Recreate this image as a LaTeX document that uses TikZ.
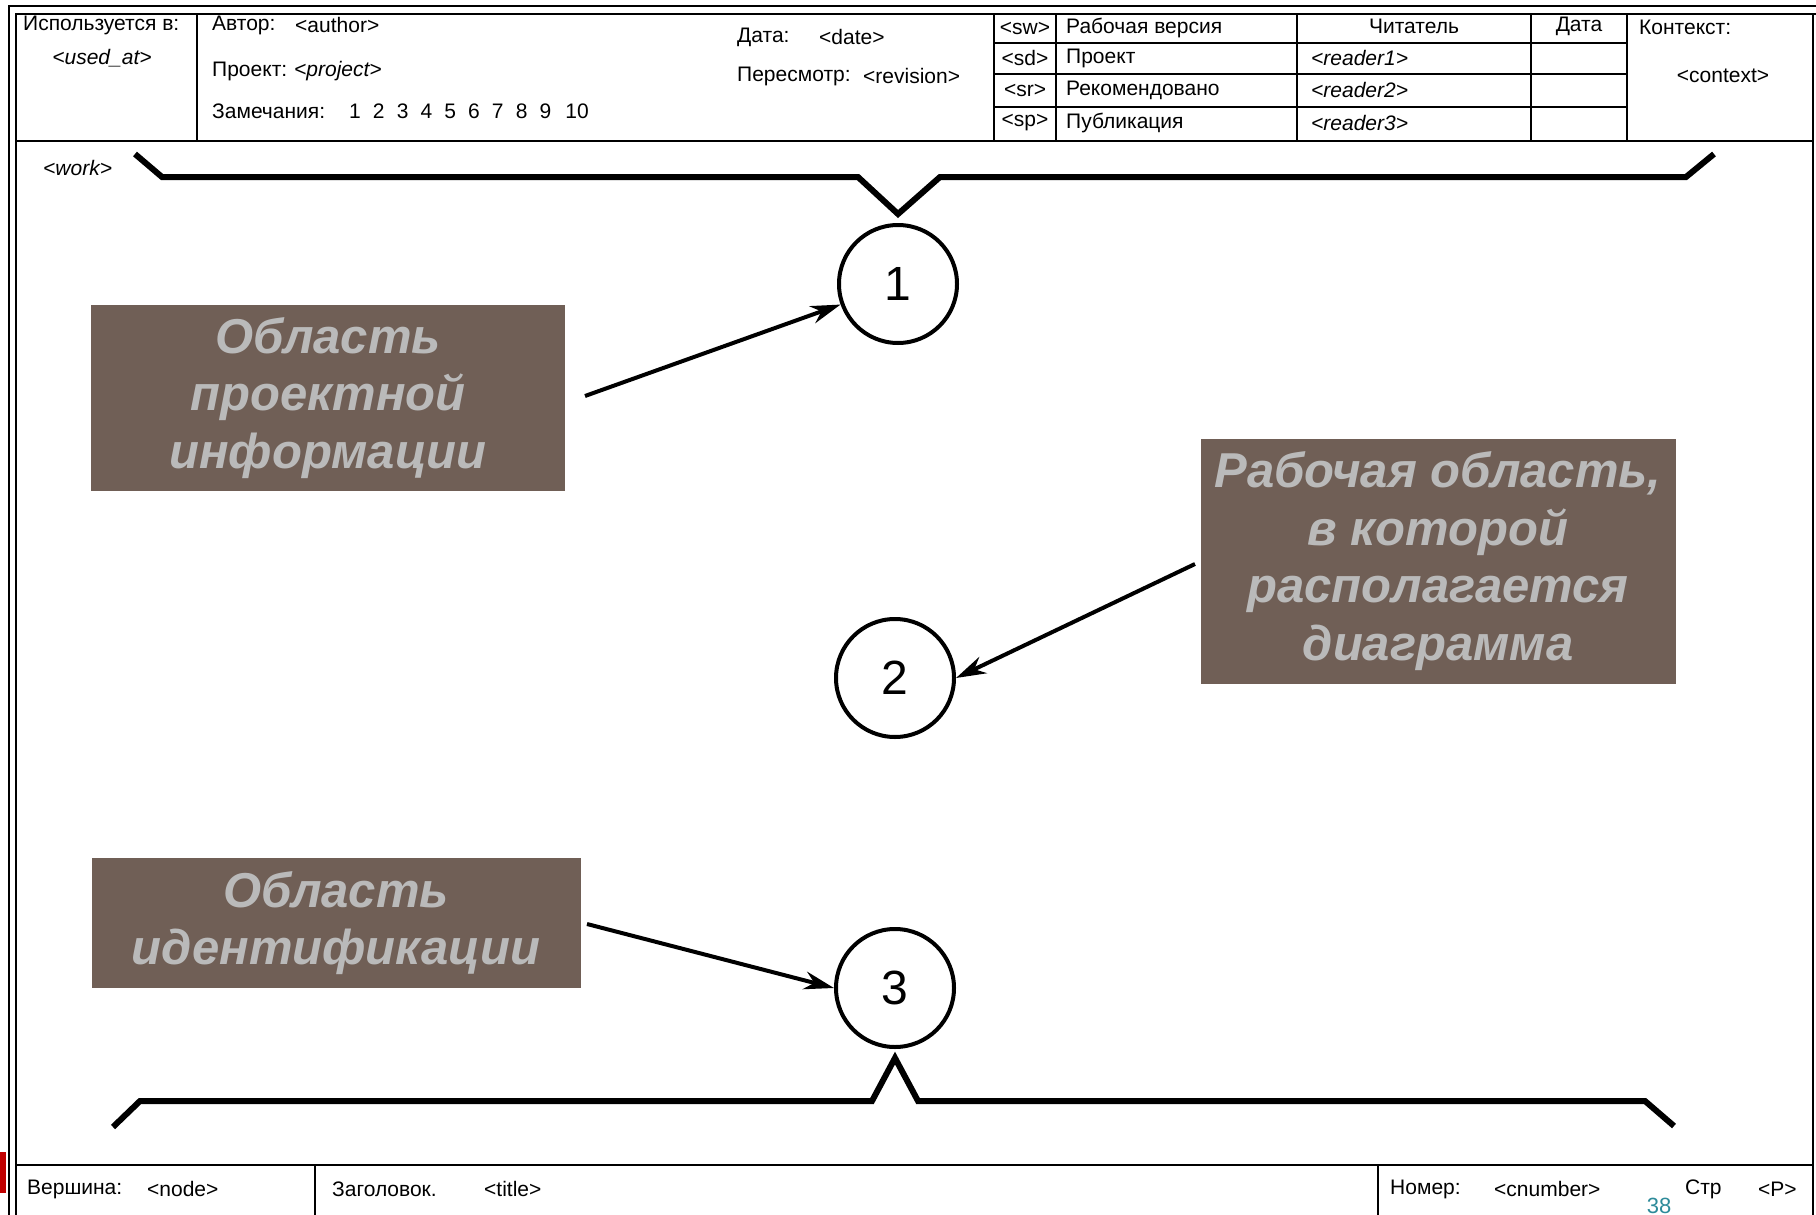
\documentclass[tikz,border=0pt]{standalone}
\usepackage{fontspec}
\setmainfont{Liberation Sans}
\usetikzlibrary{arrows.meta}
\definecolor{notebrown}{HTML}{705F56}
\definecolor{notegray}{HTML}{BABABA}
\definecolor{pageteal}{HTML}{2E8B9A}
\definecolor{scanred}{HTML}{C00000}
\tikzset{
  frame/.style = {line width=2.6pt},
  cell/.style = {line width=2.4pt},
  hdr/.style = {font=\fontsize{21}{24}\selectfont, inner sep=0pt, anchor=west},
  hdrc/.style = {font=\fontsize{21}{24}\selectfont, inner sep=0pt},
  note/.style = {fill=notebrown, text=notegray, inner sep=0pt, align=center,
    font=\fontsize{49}{57.5}\selectfont\bfseries\itshape},
  num/.style = {draw, circle, line width=4pt, minimum size=118pt, inner sep=0pt,
    font=\fontsize{48}{48}\selectfont},
  brace/.style = {line width=6pt, line join=miter},
  ptr/.style = {line width=4pt, -{Stealth[length=30pt,width=18pt]}}
}
\begin{document}
\begin{tikzpicture}[x=1pt, y=-1pt]
\useasboundingbox (0,0) rectangle (1816,1215);
\fill[white] (0,0) rectangle (1816,1215);
% outer frame
\draw[frame] (9,1215) -- (9,6) -- (1816,6);
\draw[frame] (16,1215) -- (16,14) -- (1816,14);
\draw[cell] (1813,14) -- (1813,1215);
\draw[frame] (16,141) -- (1813,141);
\draw[frame] (16,1165) -- (1813,1165);
\fill[scanred] (0,1152) rectangle (6,1193);
% header cells
\foreach \x in {197,994,1056,1297,1531,1627}
  \draw[cell] (\x,14) -- (\x,141);
\foreach \y in {43,74,107}
  \draw[cell] (994,\y) -- (1627,\y);
% footer cells
\foreach \x in {315,1378}
  \draw[cell] (\x,1165) -- (\x,1215);
% header texts
\node[hdr] (usedl) at (23,25) {Используется в:};
\node[hdrc] (usedv) at (102,58) {\itshape <used\_at>};
\node[hdr] (authl) at (212,25) {Автор:};
\node[hdr] (authv) at (295,25) {<author>};
\node[hdr] (projl) at (212,71) {Проект:};
\node[hdr] (projv) at (294,71) {\itshape <project>};
\node[hdr] (notel) at (212,111) {Замечания:};
\foreach \i in {1,...,9}
  \node[hdrc] (n\i) at ({355+(\i-1)*23.8},111) {\i};
\node[hdrc] (n10) at (577,111) {10};
\node[hdr] (datel) at (737,37) {Дата:};
\node[hdr] (datev) at (819,37) {<date>};
\node[hdr] (revl) at (737,76) {Пересмотр:};
\node[hdr] (revv) at (863,76) {<revision>};
\node[hdrc] (sw) at (1025,28) {<sw>};
\node[hdrc] (sd) at (1025,58) {<sd>};
\node[hdrc] (sr) at (1025,90) {<sr>};
\node[hdrc] (sp) at (1025,123) {<sp>};
\node[hdr] (swl) at (1066,28) {Рабочая версия};
\node[hdr] (sdl) at (1066,58) {Проект};
\node[hdr] (srl) at (1066,90) {Рекомендовано};
\node[hdr] (spl) at (1066,123) {Публикация};
\node[hdrc] (readl) at (1414,26) {Читатель};
\node[hdr] (read1) at (1311,58) {\itshape <reader1>};
\node[hdr] (read2) at (1311,90) {\itshape <reader2>};
\node[hdr] (read3) at (1311,123) {\itshape <reader3>};
\node[hdrc] (rdate) at (1579,26) {Дата};
\node[hdr] (ctxl) at (1639,27) {Контекст:};
\node[hdrc] (ctxv) at (1723,76) {<context>};
\node[hdr] (work) at (43,168) {\itshape <work>};
% footer texts
\node[hdr] (nodel) at (27,1189) {Вершина:};
\node[hdr] (nodev) at (147,1189) {<node>};
\node[hdr] (titl) at (332,1189) {Заголовок.};
\node[hdr] (titv) at (484,1189) {<title>};
\node[hdr] (cnuml) at (1390,1189) {Номер:};
\node[hdr] (cnumv) at (1494,1189) {<cnumber>};
\node[hdr] (pagel) at (1685,1189) {Стр};
\node[hdr] (pagev) at (1758,1189) {<P>};
\node[text=pageteal, font=\fontsize{22}{22}\selectfont, inner sep=0pt, anchor=south]
  (pnum) at (1659,1214) {38};
% braces
\draw[brace] (135,154) -- (162,177) -- (858,177) -- (898,214) -- (940,177)
  -- (1686,177) -- (1714,154);
\draw[brace] (113,1127) -- (140,1101) -- (872,1101) -- (895,1058) -- (918,1101)
  -- (1645,1101) -- (1674,1126);
% numbered areas
\node[num] (c1) at (898,284) {1};
\node[num] (c2) at (895,678) {2};
\node[num] (c3) at (895,988) {3};
% notes
\node[note, minimum width=474pt, minimum height=186pt] (info) at (328,398)
  {Область\\проектной\\информации};
\node[note, minimum width=475pt, minimum height=245pt] (workarea) at (1438,561)
  {Рабочая область,\\в которой\\располагается\\диаграмма};
\node[note, minimum width=489pt, minimum height=130pt] (ident) at (336,923)
  {Область\\идентификации};
% pointers
\coordinate (p1) at (585,396);
\coordinate (p2) at (1195,564);
\coordinate (p3) at (587,924);
\draw[ptr] (p1) -- (c1);
\draw[ptr] (p2) -- (c2.east);
\draw[ptr] (p3) -- (c3.west);
\end{tikzpicture}
\end{document}
